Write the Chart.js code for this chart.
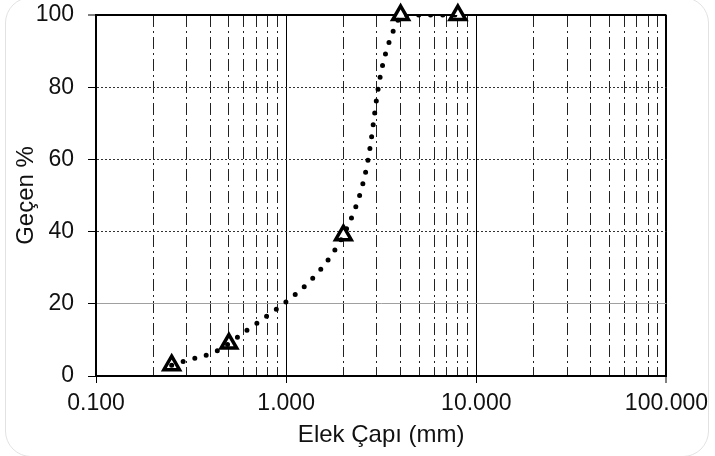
<!DOCTYPE html>
<html lang="tr">
<head>
<meta charset="UTF-8">
<title>Elek Analizi</title>
<script src="https://cdn.jsdelivr.net/npm/chart.js@4"></script>
<style>
  body { margin: 0; background: #fff; }
  #wrap { position: relative; width: 715px; height: 456px; overflow: hidden; }
  #frame { position: absolute; left: 5px; top: -3px; width: 702px; height: 458px;
           border: 1px solid #e2e2e2; border-radius: 26px; pointer-events: none; }
</style>
</head>
<body>
<div id="wrap">
  <canvas id="gradChart" width="715" height="456"></canvas>
  <div id="frame"></div>
</div>
<script>
// elek çapı (mm) ve geçen yüzde
const sieveSizes = [0.25, 0.5, 2, 4, 8];
const passing = [3, 9, 39, 100, 100];
const xMajorTicks = [0.1, 1, 10, 100];
const yTicks = [0, 20, 40, 60, 80, 100];

const isMajor = v => Math.abs(Math.log10(v) - Math.round(Math.log10(v))) < 1e-9;
const textColor = '#111';
const tickFont = { family: '"Liberation Sans", Arial, sans-serif', size: 23 };
const titleFont = { family: '"Liberation Sans", Arial, sans-serif', size: 24 };
const points = sieveSizes.map((x, i) => ({ x: x, y: passing[i] }));

const ctx = document.getElementById('gradChart').getContext('2d');
new Chart(ctx, {
    type: 'scatter',
    data: {
        datasets: [{
            // noktalı eğri (alan içinde kırpılır)
            data: points,
            showLine: true,
            borderColor: '#000',
            borderWidth: 5,
            borderDash: [0, 12],
            borderCapStyle: 'round',
            tension: 0.4,
            pointRadius: 0,
            pointHoverRadius: 0
        }, {
            // üçgen işaretler
            data: points,
            showLine: false,
            pointStyle: 'triangle',
            pointRadius: 9,
            pointHoverRadius: 9,
            pointBorderWidth: 3.5,
            pointBackgroundColor: '#fff',
            pointBorderColor: '#000',
            clip: false
        }]
    },
    options: {
        responsive: false,
        animation: false,
        layout: { autoPadding: false, padding: { top: 15, right: 48, left: 0, bottom: 0 } },
        plugins: { legend: { display: false }, tooltip: { enabled: false } },
        scales: {
            x: {
                type: 'logarithmic',
                min: 0.1,
                max: 100,
                afterBuildTicks: scale => {
                    const ticks = [];
                    for (let i = 0; i < xMajorTicks.length - 1; i++) {
                        for (let k = 1; k <= 9; k++) ticks.push({ value: xMajorTicks[i] * k });
                    }
                    ticks.push({ value: xMajorTicks[xMajorTicks.length - 1] });
                    scale.ticks = ticks;
                },
                afterFit: scale => { scale.height = 80; },
                ticks: {
                    autoSkip: false,
                    maxRotation: 0,
                    padding: 7,
                    color: textColor,
                    font: tickFont,
                    callback: v => isMajor(v) ? v.toFixed(3) : ''
                },
                grid: {
                    color: c => c.tick && isMajor(c.tick.value) ? '#000' : '#222',
                    lineWidth: c => c.tick && c.tick.value === 100 ? 2 : 1,
                    tickColor: c => c.tick && isMajor(c.tick.value) ? '#000' : 'rgba(0,0,0,0)',
                    tickLength: 7,
                    tickWidth: 1
                },
                border: {
                    color: '#000',
                    width: 2,
                    dash: c => c.tick && !isMajor(c.tick.value) ? [12, 4, 2, 4] : []
                },
                title: {
                    display: true,
                    text: 'Elek Çapı (mm)',
                    color: textColor,
                    font: titleFont,
                    padding: { top: 0, bottom: 6 }
                }
            },
            y: {
                min: 0,
                max: 100,
                afterBuildTicks: scale => { scale.ticks = yTicks.map(v => ({ value: v })); },
                afterFit: scale => {
                    scale.width = 96;
                    scale.paddingTop = 0;
                    scale.paddingBottom = 0;
                },
                ticks: {
                    padding: 14,
                    color: textColor,
                    font: tickFont
                },
                grid: {
                    color: c => {
                        if (!c.tick) return '#000';
                        const v = c.tick.value;
                        if (v === 20) return '#a0a0a0';
                        if (v === 0 || v === 100) return '#000';
                        return '#333';
                    },
                    lineWidth: c => c.tick && c.tick.value === 100 ? 2 : 1,
                    tickColor: '#000',
                    tickLength: 8,
                    tickWidth: 1
                },
                border: {
                    color: '#000',
                    width: 2,
                    dash: c => c.tick && [40, 60, 80].includes(c.tick.value) ? [2, 2] : []
                },
                title: {
                    display: true,
                    text: 'Geçen %',
                    color: textColor,
                    font: titleFont,
                    padding: { top: 12, bottom: 12 }
                }
            }
        }
    }
});
</script>
</body>
</html>
